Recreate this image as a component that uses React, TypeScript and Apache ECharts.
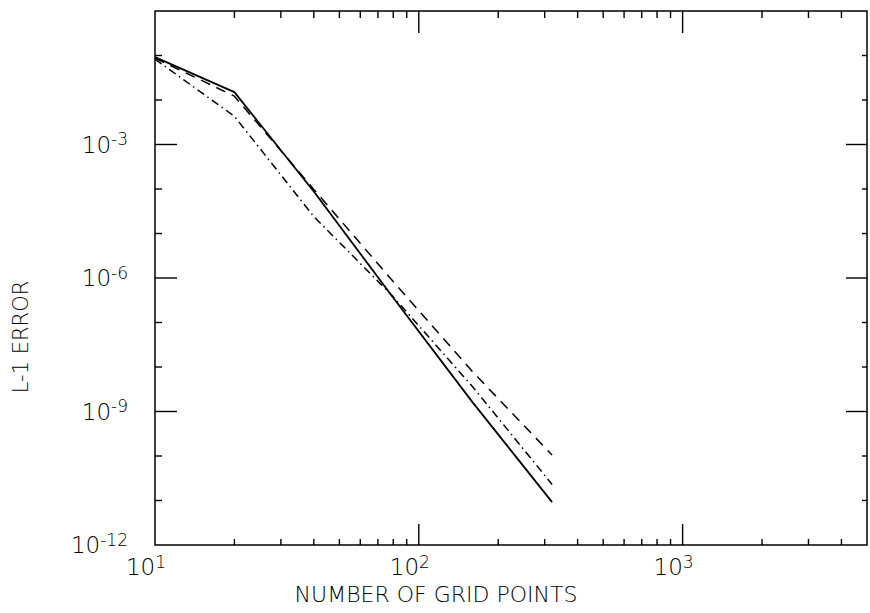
import React, { useEffect, useRef } from "react";
import * as echarts from "echarts";

// ---- data ----
const gridPoints = [10, 20, 40, 80, 160, 320];
const errSolid = [0.092, 0.015, 8.8e-5, 3.6e-7, 1.6e-9, 9.2e-12];
const errDashed = [0.087, 0.0122, 9.8e-5, 8.3e-7, 7.8e-9, 1.05e-10];
const errDashDot = [0.083, 4.3e-3, 2.4e-5, 3.8e-7, 3.6e-9, 2.3e-11];

const xMajorTicks = [100, 1000];
const xMinorTicks = [20, 30, 40, 50, 60, 70, 80, 90, 200, 300, 400, 500, 600, 700, 800, 900, 2000, 3000, 4000];
const yMajorTicks = [1e-9, 1e-6, 1e-3];
const yMinorTicks = [1e-1, 1e-2, 1e-4, 1e-5, 1e-7, 1e-8, 1e-10, 1e-11];

const xTickLabelValues = [10, 100, 1000];
const xTickLabelExponents = ["1", "2", "3"];
const yTickLabelValues = [1e-12, 1e-9, 1e-6, 1e-3];
const yTickLabelExponents = ["-12", "-9", "-6", "-3"];

const INK = "#000";
const FONT = "DejaVu Sans";

function findExp(v: number, values: number[], exps: string[]) {
  for (let i = 0; i < values.length; i++) {
    if (Math.abs(Math.log10(v) - Math.log10(values[i])) < 1e-6) return exps[i];
  }
  return null;
}

function tickSeries(values: number[], axis: "x" | "y", lenA: number, lenB: number) {
  return {
    type: "custom",
    coordinateSystem: "cartesian2d",
    silent: true,
    clip: false,
    z: 10,
    data: values.map((v) => (axis === "x" ? [v, 1e-6] : [100, v])),
    renderItem: (params: any, api: any) => {
      const cs = params.coordSys;
      const p = api.coord([api.value(0), api.value(1)]);
      const st = { stroke: INK, lineWidth: 1.4 };
      if (axis === "x") {
        const yb = cs.y + cs.height;
        const yt = cs.y;
        return {
          type: "group",
          children: [
            { type: "line", shape: { x1: p[0], y1: yb, x2: p[0], y2: yb - lenA }, style: st },
            { type: "line", shape: { x1: p[0], y1: yt, x2: p[0], y2: yt + lenB }, style: st },
          ],
        };
      }
      const xl = cs.x;
      const xr = cs.x + cs.width;
      return {
        type: "group",
        children: [
          { type: "line", shape: { x1: xl, y1: p[1], x2: xl + lenA, y2: p[1] }, style: st },
          { type: "line", shape: { x1: xr, y1: p[1], x2: xr - lenB, y2: p[1] }, style: st },
        ],
      };
    },
  };
}

const richLabel = {
  b: { fontSize: 23, fontFamily: FONT, fontWeight: 200, color: INK, lineHeight: 28 },
  s: { fontSize: 17, fontFamily: FONT, fontWeight: 200, color: INK, lineHeight: 16, verticalAlign: "top" },
  p: { width: 18 },
};

export default function App() {
  const ref = useRef<HTMLDivElement>(null);
  useEffect(() => {
    if (!ref.current) return;
    const chart = echarts.init(ref.current, undefined, { renderer: "svg" });
    const mk = (ys: number[]) => gridPoints.map((x, i) => [x, ys[i]]);
    chart.setOption({
      animation: false,
      backgroundColor: "#fff",
      grid: {
        left: 155,
        right: -1,
        top: 11,
        bottom: 68,
        show: true,
        borderColor: INK,
        borderWidth: 1.5,
        backgroundColor: "transparent",
      },
      xAxis: {
        type: "log",
        logBase: 10,
        min: 10,
        max: 5000,
        axisLine: { show: false },
        axisTick: { show: false },
        splitLine: { show: false },
        minorTick: { show: false },
        axisLabel: {
          margin: 8,
          hideOverlap: false,
          showMinLabel: true,
          showMaxLabel: true,
          formatter: (v: number) => {
            const e = findExp(v, xTickLabelValues, xTickLabelExponents);
            return e ? `{b|10}{s|${e}}{p|}` : "";
          },
          rich: richLabel,
        },
        name: "NUMBER OF GRID POINTS",
        nameLocation: "middle",
        nameGap: 36,
        nameTextStyle: { fontSize: 22, fontFamily: FONT, fontWeight: 200, color: INK, padding: [0, 150, 0, 0] },
      },
      yAxis: {
        type: "log",
        logBase: 10,
        min: 1e-12,
        max: 1,
        interval: 3,
        axisLine: { show: false },
        axisTick: { show: false },
        splitLine: { show: false },
        minorTick: { show: false },
        axisLabel: {
          margin: 27,
          hideOverlap: false,
          showMinLabel: true,
          showMaxLabel: true,
          formatter: (v: number) => {
            const e = findExp(v, yTickLabelValues, yTickLabelExponents);
            return e ? `{b|10}{s|${e}}` : "";
          },
          rich: richLabel,
        },
        name: "L-1 ERROR",
        nameLocation: "middle",
        nameGap: 124,
        nameTextStyle: { fontSize: 21, fontFamily: FONT, fontWeight: 200, color: INK, padding: [0, 118, 0, 0] },
      },
      series: [
        {
          name: "solid",
          type: "line",
          data: mk(errSolid),
          symbol: "none",
          lineStyle: { color: INK, width: 1.8, type: "solid" },
          z: 5,
        },
        {
          name: "dashed",
          type: "line",
          data: mk(errDashed),
          symbol: "none",
          lineStyle: { color: INK, width: 1.5, type: [10, 7] },
          z: 5,
        },
        {
          name: "dash-dot",
          type: "line",
          data: mk(errDashDot),
          symbol: "none",
          lineStyle: { color: INK, width: 1.5, type: [8, 4, 1.5, 4] },
          z: 5,
        },
        tickSeries(xMajorTicks, "x", 21, 22),
        tickSeries(xMinorTicks, "x", 6, 7),
        tickSeries(yMajorTicks, "y", 22, 21),
        tickSeries(yMinorTicks, "y", 7, 5),
      ],
    });
    return () => chart.dispose();
  }, []);
  return (
    <div
      ref={ref}
      style={{ position: "fixed", left: 0, top: 0, width: 870, height: 613, background: "#fff" }}
    />
  );
}
